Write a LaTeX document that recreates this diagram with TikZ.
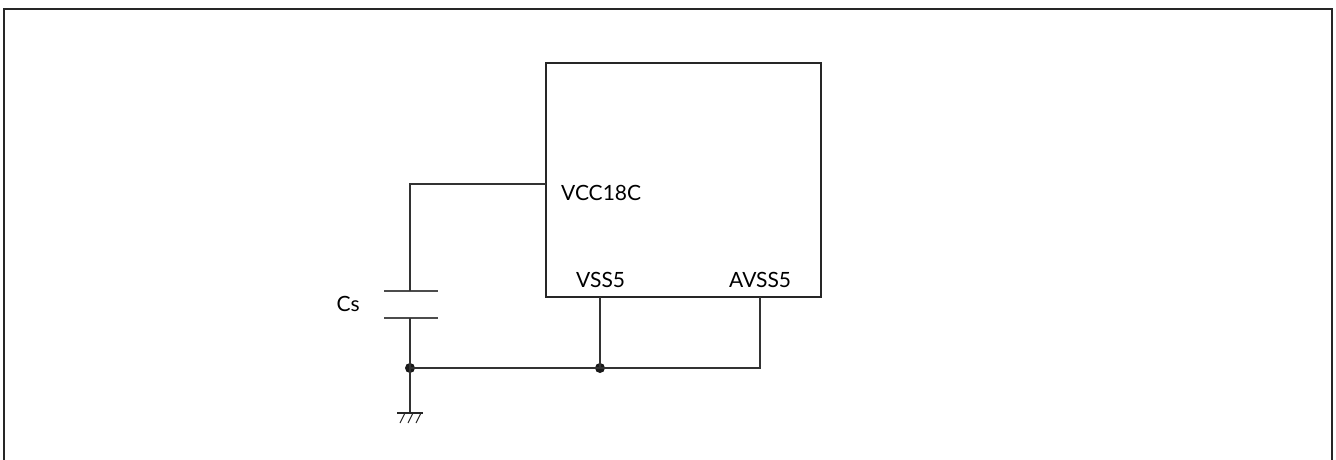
\documentclass[tikz,border=0pt]{standalone}
\usepackage{fontspec}
\setmainfont{Lato}
\usetikzlibrary{positioning}
\definecolor{wiregray}{RGB}{50,50,50}

\tikzset{
	wire/.style={draw=wiregray,line width=1.3pt},
	pinlabel/.style={inner sep=0pt,font=\fontsize{21}{25}\selectfont},
	junction/.style={circle,fill=black!90,inner sep=0pt,minimum size=10pt}
}

\begin{document}
\begin{tikzpicture}[x=1pt,y=1pt]
			\useasboundingbox (0,0) rectangle (1336,459);
			\coordinate (chip_sw) at (546,162);
			\coordinate (chip_ne) at (821,396);
			\coordinate (vcc) at (546,275);
			\coordinate (vcc_turn) at (410,275);
			\coordinate (cs_top) at (410,168);
			\coordinate (cs_bot) at (410,141);
			\coordinate (vss) at (600,162);
			\coordinate (avss) at (760,162);
			\coordinate (avss_turn) at (760,91);
			\coordinate (gnd) at (410,46);
			
			% outer frame, open at the bottom
			\draw[line width=1.6pt,black!85] (4,-2)--(4,450)--(1332,450)--(1332,-2);
			
			% chip
			\draw[line width=2pt,black!85] (chip_sw) rectangle (chip_ne);
			\node[pinlabel,anchor=west] (VCCLabel) at ([shift={(15,-9)}]vcc) {VCC18C};
			\node[pinlabel,anchor=base west] (VSSLabel) at ([shift={(-24,10)}]vss) {VSS5};
			\node[pinlabel,anchor=base west] (AVSSLabel) at ([shift={(-31,10)}]avss) {AVSS5};
			
			% capacitor
			\draw[line width=1.6pt,black!70] ([shift={(-26,0)}]cs_top)--([shift={(28,0)}]cs_top);
			\draw[line width=1.6pt,black!70] ([shift={(-26,0)}]cs_bot)--([shift={(28,0)}]cs_bot);
			\node[pinlabel,anchor=east] (CsLabel) at ([shift={(-50,-13)}]cs_top) {Cs};
			
			% junctions
			\node[junction] (J1) at (410,91) {};
			\node[junction] (J2) at (600,91) {};
			
			% wires
			\draw[wire] (vcc)--(vcc_turn)--(cs_top);
			\draw[wire] (cs_bot)--(J1.center);
			\draw[wire] (J1.center)--(J2.center)--(avss_turn)--(avss);
			\draw[wire] (vss)--(J2.center);
			\draw[wire] (J1.center)--(gnd);
			
			% ground
			\draw[line width=1.6pt,black!85] ([shift={(-13,0)}]gnd)--([shift={(13,0)}]gnd);
			\foreach \dx in {-8,0,8}
				\draw[line width=1.1pt,black!85] ([shift={(\dx+3,0)}]gnd)--([shift={(\dx-2,-10)}]gnd);
		\end{tikzpicture}
\end{document}
